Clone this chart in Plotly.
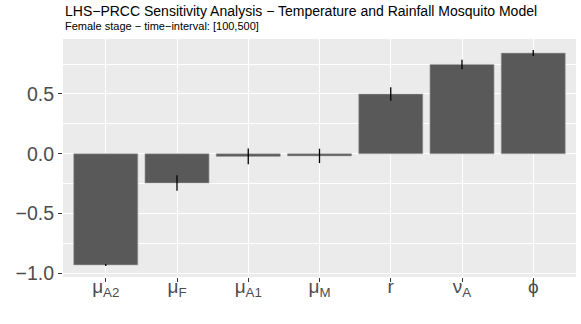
import plotly.graph_objects as go

# PRCC values per parameter (Female stage, interval [100,500])
params = ["muA2", "muF", "muA1", "muM", "r", "nuA", "phi"]
param_labels = ["μ<sub>A2</sub>", "μ<sub>F</sub>", "μ<sub>A1</sub>", "μ<sub>M</sub>",
                "r", "ν<sub>A</sub>", "ϕ"]
prcc = [-0.93, -0.245, -0.022, -0.018, 0.50, 0.747, 0.842]
prcc_err = [0.008, 0.065, 0.066, 0.06, 0.057, 0.04, 0.025]

y_ticks = [-1.0, -0.5, 0.0, 0.5]
y_ticklabels = ["−1.0", "−0.5", "0.0", "0.5"]
y_minor = [-0.75, -0.25, 0.25, 0.75]

title = "LHS−PRCC Sensitivity Analysis − Temperature and Rainfall Mosquito Model"
subtitle = "Female stage − time−interval: [100,500]"

font = "Liberation Sans, Arial, sans-serif"

fig = go.Figure()
fig.add_trace(go.Bar(
    x=params,
    y=prcc,
    width=0.9,
    marker=dict(color="#595959", line=dict(color="#a6a6a6", width=0.6)),
    error_y=dict(type="data", array=prcc_err, color="black", thickness=1.3, width=0),
    showlegend=False,
))

fig.update_layout(
    width=581, height=324,
    margin=dict(l=63, r=5, t=39, b=47),
    paper_bgcolor="white",
    plot_bgcolor="#EBEBEB",
    font=dict(family=font, color="#4D4D4D"),
    annotations=[
        dict(text=title, xref="paper", yref="paper", x=0, y=1.1176, xanchor="left",
             yanchor="middle", showarrow=False, font=dict(size=14, color="black")),
        dict(text=subtitle, xref="paper", yref="paper", x=0, y=1.056, xanchor="left",
             yanchor="middle", showarrow=False, font=dict(size=11, color="black")),
    ],
)

fig.update_xaxes(
    range=[-0.6, 6.6],
    tickvals=params, ticktext=param_labels,
    showgrid=True, gridcolor="white", gridwidth=1.1,
    ticks="outside", ticklen=4, tickcolor="#333333", tickwidth=1,
    tickfont=dict(size=19, color="#4D4D4D"),
    ticklabelstandoff=-12,
    showline=False, zeroline=False, automargin=False,
)
fig.update_yaxes(
    range=[-1.031, 0.96],
    tickvals=y_ticks, ticktext=y_ticklabels,
    showgrid=True, gridcolor="white", gridwidth=1.1,
    minor=dict(tickvals=y_minor, showgrid=True, gridcolor="white", gridwidth=0.5, ticks=""),
    ticks="outside", ticklen=4, tickcolor="#333333", tickwidth=1,
    tickfont=dict(size=19.5, color="#4D4D4D"),
    showline=False, zeroline=False, automargin=False,
)

# the page body has an 8px default margin; drop it so the figure sits at (0, 0)
fig.write_html("out.html", config={"displayModeBar": False},
               post_script="document.body.style.margin='0px';")
